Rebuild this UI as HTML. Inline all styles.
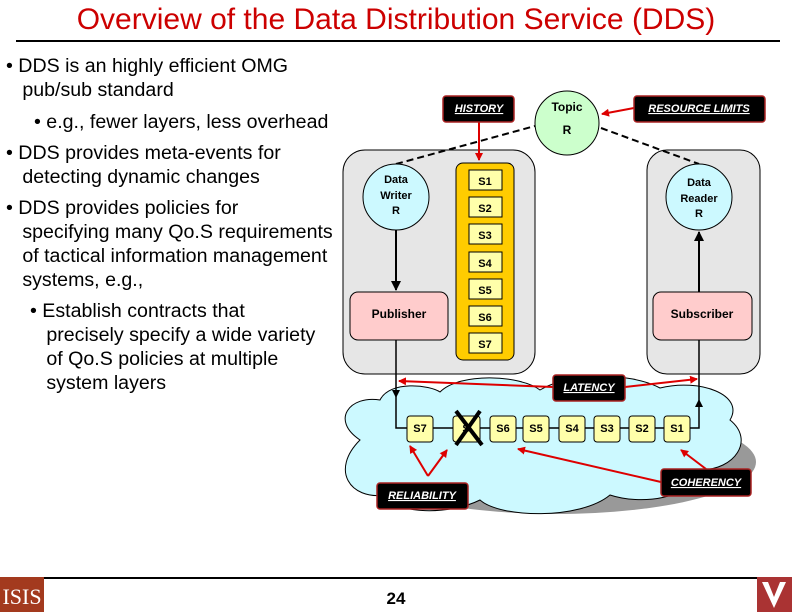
<!DOCTYPE html>
<html><head><style>
body{margin:0;width:792px;height:612px;background:#fff;overflow:hidden;position:relative;font-family:"Liberation Sans",sans-serif}
.t{position:absolute;color:#000;font-size:19.6px;line-height:24px}
</style></head><body>
<div style="position:absolute;left:0;top:3px;width:792px;text-align:center;color:#c00;font-size:30px">Overview of the Data Distribution Service (DDS)</div>
<div style="position:absolute;left:16px;top:40px;width:764px;height:2px;background:#000"></div>
<div class="t" style="left:6px;top:54px">• DDS is an highly efficient OMG<br>&nbsp;&nbsp;&nbsp;pub/sub standard</div>
<div class="t" style="left:34px;top:110px">• e.g., fewer layers, less overhead</div>
<div class="t" style="left:6px;top:141px">• DDS provides meta-events for<br>&nbsp;&nbsp;&nbsp;detecting dynamic changes</div>
<div class="t" style="left:6px;top:196px">• DDS provides policies for<br>&nbsp;&nbsp;&nbsp;specifying many Qo.S requirements<br>&nbsp;&nbsp;&nbsp;of tactical information management<br>&nbsp;&nbsp;&nbsp;systems, e.g.,</div>
<div class="t" style="left:30px;top:299px">• Establish contracts that<br>&nbsp;&nbsp;&nbsp;precisely specify a wide variety<br>&nbsp;&nbsp;&nbsp;of Qo.S policies at multiple<br>&nbsp;&nbsp;&nbsp;system layers</div>
<svg width="792" height="612" style="position:absolute;left:0;top:0" font-family="Liberation Sans,sans-serif" font-weight="bold">
<defs>
<marker id="ar" markerWidth="8" markerHeight="8" refX="7" refY="4" orient="auto" markerUnits="userSpaceOnUse"><path d="M0,0L8,4L0,8z" fill="#d00"/></marker>
<marker id="ab" markerWidth="10" markerHeight="10" refX="9" refY="5" orient="auto" markerUnits="userSpaceOnUse"><path d="M0,0L10,5L0,10z" fill="#000"/></marker>
</defs>
<g fill="#999"><ellipse cx="556" cy="462" rx="200" ry="52"/></g>
<g fill="#ccf9ff" stroke="#000" stroke-width="1">
<path d="M360,440 C330,420 350,395 380,400 C390,380 430,385 440,392 C460,372 520,375 540,390 C570,372 630,372 660,388 C700,378 745,395 730,420 C755,440 735,470 700,470 C690,500 640,505 610,495 C580,520 500,518 480,500 C450,515 395,515 385,495 C350,500 330,470 360,440 Z"/>
</g>
<rect x="343" y="150" width="192" height="224" rx="22" fill="#e6e6e6" stroke="#000"/>
<rect x="647" y="150" width="113" height="224" rx="20" fill="#e6e6e6" stroke="#000"/>
<path d="M396,164 L535,126 M601,128 L699,164" stroke="#000" stroke-width="2" stroke-dasharray="7,4" fill="none"/>
<circle cx="567" cy="123" r="32" fill="#ccffcc" stroke="#000"/>
<text x="567" y="111" font-size="12" text-anchor="middle">Topic</text>
<text x="567" y="134" font-size="12" text-anchor="middle">R</text>
<rect x="456" y="163" width="58" height="197" rx="7" fill="#ffcc00" stroke="#000"/>
<g font-size="11" text-anchor="middle">
<g fill="#ffffaa" stroke="#000"><rect x="469" y="170" width="33" height="20"/><rect x="469" y="197" width="33" height="20"/><rect x="469" y="224" width="33" height="20"/><rect x="469" y="252" width="33" height="20"/><rect x="469" y="279" width="33" height="20"/><rect x="469" y="306" width="33" height="20"/><rect x="469" y="333" width="33" height="20"/></g>
<text x="485" y="185">S1</text><text x="485" y="212">S2</text><text x="485" y="239">S3</text><text x="485" y="267">S4</text><text x="485" y="294">S5</text><text x="485" y="321">S6</text><text x="485" y="348">S7</text>
</g>
<circle cx="396" cy="197" r="33" fill="#ccf9ff" stroke="#000"/>
<text font-size="11" text-anchor="middle"><tspan x="396" y="183">Data</tspan><tspan x="396" y="199">Writer</tspan><tspan x="396" y="214">R</tspan></text>
<circle cx="699" cy="197" r="33" fill="#ccf9ff" stroke="#000"/>
<text font-size="11" text-anchor="middle"><tspan x="699" y="186">Data</tspan><tspan x="699" y="202">Reader</tspan><tspan x="699" y="217">R</tspan></text>
<rect x="350" y="292" width="98" height="48" rx="8" fill="#ffcccc" stroke="#000"/>
<text x="399" y="318" font-size="12" text-anchor="middle">Publisher</text>
<rect x="653" y="292" width="99" height="48" rx="8" fill="#ffcccc" stroke="#000"/>
<text x="702" y="318" font-size="12" text-anchor="middle">Subscriber</text>
<line x1="396" y1="230" x2="396" y2="290" stroke="#000" stroke-width="2" marker-end="url(#ab)"/>
<line x1="699" y1="292" x2="699" y2="232" stroke="#000" stroke-width="2" marker-end="url(#ab)"/>
<path d="M396,340 L396,428 L699,428 L699,340" stroke="#000" stroke-width="1.5" fill="none"/>
<path d="M392,390 L396,398 L400,390z M695,407 L699,399 L703,407z"/>
<g fill="#ffffaa" stroke="#000"><rect x="407" y="416" width="26" height="26" rx="3"/><rect x="453" y="416" width="27" height="26" rx="3"/><rect x="490" y="416" width="26" height="26" rx="3"/><rect x="523" y="416" width="26" height="26" rx="3"/><rect x="559" y="416" width="26" height="26" rx="3"/><rect x="594" y="416" width="26" height="26" rx="3"/><rect x="629" y="416" width="26" height="26" rx="3"/><rect x="664" y="416" width="26" height="26" rx="3"/></g>
<g font-size="11" text-anchor="middle"><text x="420" y="432">S7</text><text x="466" y="432">S</text><text x="503" y="432">S6</text><text x="536" y="432">S5</text><text x="572" y="432">S4</text><text x="607" y="432">S3</text><text x="642" y="432">S2</text><text x="677" y="432">S1</text></g>
<path d="M456,411 L482,445 M480,411 L456,445" stroke="#000" stroke-width="4"/>
<g stroke="#d00" stroke-width="2" fill="none">
<line x1="479" y1="122" x2="479" y2="160" marker-end="url(#ar)"/>
<line x1="634" y1="108" x2="602" y2="114" marker-end="url(#ar)"/>
<line x1="553" y1="387" x2="399" y2="381" marker-end="url(#ar)"/>
<line x1="625" y1="387" x2="697" y2="379" marker-end="url(#ar)"/>
<line x1="428" y1="476" x2="447" y2="450" marker-end="url(#ar)"/>
<line x1="428" y1="476" x2="410" y2="446" marker-end="url(#ar)"/>
<line x1="661" y1="482" x2="518" y2="449" marker-end="url(#ar)"/>
<line x1="706" y1="469" x2="681" y2="450" marker-end="url(#ar)"/>
</g>
<g fill="#000" stroke="#a22" stroke-width="1.5">
<rect x="443" y="96" width="71" height="26" rx="3"/><rect x="634" y="96" width="131" height="26" rx="3"/><rect x="553" y="375" width="72" height="26" rx="3"/><rect x="377" y="483" width="91" height="26" rx="3"/><rect x="661" y="469" width="90" height="27" rx="3"/>
</g>
<g fill="#fff" font-size="11" font-style="italic" text-anchor="middle" text-decoration="underline">
<text x="479" y="112">HISTORY</text><text x="699" y="112">RESOURCE LIMITS</text><text x="589" y="391">LATENCY</text><text x="422" y="499">RELIABILITY</text><text x="706" y="486">COHERENCY</text>
</g>
<line x1="44" y1="578" x2="757" y2="578" stroke="#000" stroke-width="2"/>
<text x="396" y="604" font-size="17" text-anchor="middle">24</text>
<rect x="0" y="577" width="44" height="35" fill="#a33a1e"/>
<text x="22" y="604" font-size="22" fill="#fff" font-weight="normal" font-family="Liberation Serif,serif" text-anchor="middle">ISIS</text>
<rect x="757" y="577" width="35" height="35" fill="#a33"/>
<path d="M762,582 L774,608 L786,582 L780,582 L774,597 L768,582z" fill="#fff"/>
</svg>
</body></html>
